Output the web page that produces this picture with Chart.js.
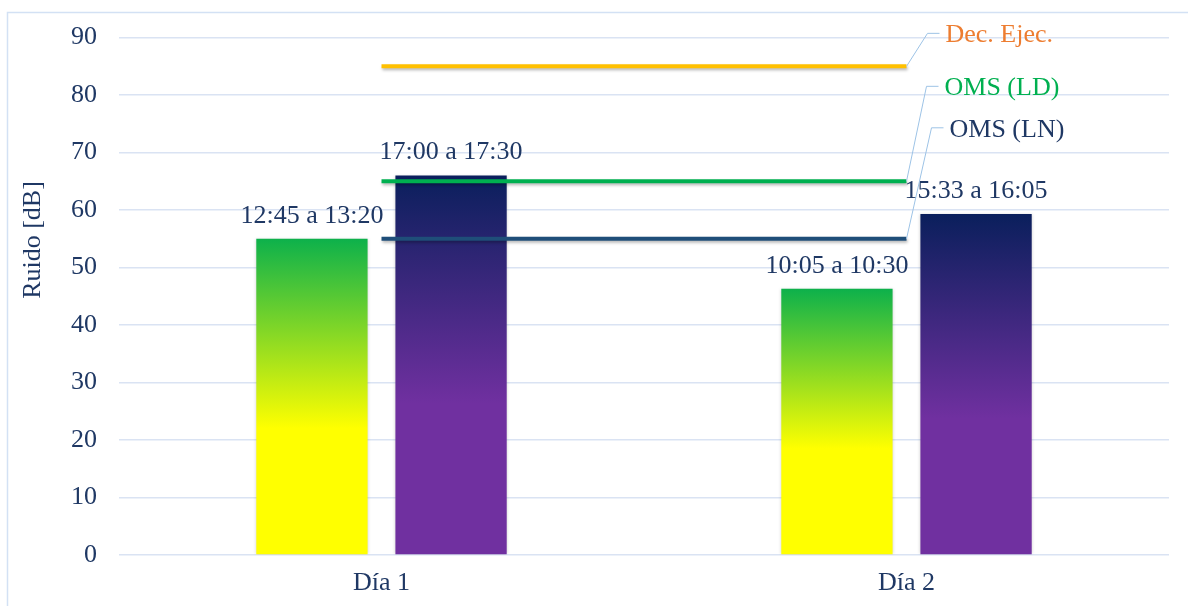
<!DOCTYPE html>
<html>
<head>
<meta charset="utf-8">
<script src="https://cdn.jsdelivr.net/npm/chart.js@4"></script>
<style>
  html, body { margin: 0; padding: 0; background: #ffffff; }
  #wrap { width: 1188px; height: 606px; position: relative; }
</style>
</head>
<body>
<div id="wrap"><canvas id="chart" width="1188" height="606"></canvas></div>
<script>
// Noise measurements per day
const categories = ['Día 1', 'Día 2'];
const medicionA = [55, 46.3];          // first measurement of each day
const medicionB = [66, 59.3];          // second measurement of each day
const horarioA = ['12:45 a 13:20', '10:05 a 10:30'];
const horarioB = ['17:00 a 17:30', '15:33 a 16:05'];

// Reference limits
const limiteDecEjec = [85, 85];
const limiteOmsLD = [65, 65];
const limiteOmsLN = [55, 55];
const limiteNombres = ['Dec. Ejec.', 'OMS (LD)', 'OMS (LN)'];

const yTickStep = 10;
const yMax = 90;

const SERIF = '"Liberation Serif", "Times New Roman", serif';
const NAVY = '#1F3864';
const FONT_PX = 26;

// Vertical gradient inside a bar: solid colour on the lower part, fading to the top colour
function barGradient(bottomColor, topColor) {
  return function (ctx) {
    const chart = ctx.chart;
    if (!chart.chartArea || ctx.type !== 'data') return bottomColor;
    const y = chart.scales.y;
    const y0 = y.getPixelForValue(0);
    const y1 = y.getPixelForValue(ctx.raw);
    if (!isFinite(y0) || !isFinite(y1) || y0 === y1) return bottomColor;
    const g = chart.ctx.createLinearGradient(0, y0, 0, y1);
    g.addColorStop(0, bottomColor);
    g.addColorStop(0.4, bottomColor);
    g.addColorStop(1, topColor);
    return g;
  };
}

// Outer frame around the chart
const framePlugin = {
  id: 'frame',
  beforeDraw(chart) {
    const c = chart.ctx;
    c.save();
    c.strokeStyle = '#D3E1F4';
    c.lineWidth = 1.5;
    c.strokeRect(7.5, 12.5, chart.width + 20, chart.height + 20);
    c.restore();
  }
};

// Soft shadow under bars and limit lines
const shadowPlugin = {
  id: 'markShadow',
  beforeDatasetDraw(chart, args) {
    const c = chart.ctx;
    c.save();
    if (args.meta.type === 'line') {
      c.shadowColor = 'rgba(0,0,0,0.28)';
      c.shadowBlur = 3;
      c.shadowOffsetX = 1;
      c.shadowOffsetY = 2;
    } else {
      c.shadowColor = 'rgba(0,0,0,0.18)';
      c.shadowBlur = 3;
    }
  },
  afterDatasetDraw(chart) {
    chart.ctx.restore();
  }
};

// Time range written above each bar
const barLabelPlugin = {
  id: 'barLabels',
  afterDatasetsDraw(chart) {
    const c = chart.ctx;
    c.save();
    c.font = FONT_PX + 'px ' + SERIF;
    c.fillStyle = NAVY;
    c.textAlign = 'center';
    c.textBaseline = 'middle';
    chart.data.datasets.forEach((ds, di) => {
      if (!ds.horario) return;
      const meta = chart.getDatasetMeta(di);
      meta.data.forEach((bar, i) => {
        c.fillText(ds.horario[i], bar.x, bar.y - 23);
      });
    });
    c.restore();
  }
};

// Leader lines from the end of each limit line to its name
const leaderPlugin = {
  id: 'leaders',
  afterDatasetsDraw(chart) {
    const c = chart.ctx;
    c.save();
    c.font = FONT_PX + 'px ' + SERIF;
    c.textAlign = 'left';
    c.textBaseline = 'middle';
    chart.data.datasets.forEach((ds, di) => {
      if (!ds.leader) return;
      const meta = chart.getDatasetMeta(di);
      const pt = meta.data[meta.data.length - 1];
      const L = ds.leader;
      const yl = pt.y + L.dy;
      c.strokeStyle = '#9DC3E6';
      c.lineWidth = 1;
      c.beginPath();
      c.moveTo(pt.x, pt.y);
      c.lineTo(pt.x + L.bend, yl);
      c.lineTo(pt.x + L.bend + 12, yl);
      c.stroke();
      c.fillStyle = ds.leaderColor;
      c.fillText(ds.label, pt.x + L.bend + 18, yl + 2);
    });
    c.restore();
  }
};

// Rotated axis title
const yTitlePlugin = {
  id: 'yTitle',
  afterDraw(chart) {
    const c = chart.ctx;
    c.save();
    c.translate(33, 240);
    c.rotate(-Math.PI / 2);
    c.font = FONT_PX + 'px ' + SERIF;
    c.fillStyle = NAVY;
    c.textAlign = 'center';
    c.textBaseline = 'middle';
    c.fillText('Ruido [dB]', 0, 0);
    c.restore();
  }
};

new Chart(document.getElementById('chart'), {
  data: {
    labels: categories,
    datasets: [
      {
        type: 'line', label: limiteNombres[0], data: limiteDecEjec, order: 0,
        borderColor: '#FFC000', borderWidth: 4, pointRadius: 0, pointHoverRadius: 0,
        leaderColor: '#ED7D31', leader: { dy: -33, bend: 21 }
      },
      {
        type: 'line', label: limiteNombres[1], data: limiteOmsLD, order: 0,
        borderColor: '#00B050', borderWidth: 4, pointRadius: 0, pointHoverRadius: 0,
        leaderColor: '#00B050', leader: { dy: -95, bend: 20 }
      },
      {
        type: 'line', label: limiteNombres[2], data: limiteOmsLN, order: 0,
        borderColor: '#1F4E79', borderWidth: 4, pointRadius: 0, pointHoverRadius: 0,
        leaderColor: NAVY, leader: { dy: -111, bend: 25 }
      },
      {
        type: 'bar', label: 'Medición 1', data: medicionA, order: 1,
        backgroundColor: barGradient('#FFFF00', '#0DB14B'),
        categoryPercentage: 0.53, barPercentage: 0.8,
        horario: horarioA
      },
      {
        type: 'bar', label: 'Medición 2', data: medicionB, order: 1,
        backgroundColor: barGradient('#7030A0', '#0A1F5C'),
        categoryPercentage: 0.53, barPercentage: 0.8,
        horario: horarioB
      }
    ]
  },
  options: {
    responsive: false,
    animation: false,
    events: [],
    layout: { padding: { left: 0, right: 19, top: 37, bottom: 0 } },
    plugins: {
      legend: { display: false },
      tooltip: { enabled: false },
      title: { display: false }
    },
    scales: {
      x: {
        grid: { display: false, drawTicks: false },
        border: { display: false },
        ticks: { color: NAVY, font: { family: SERIF, size: FONT_PX }, padding: 13 },
        afterFit(s) { s.height = 51; }
      },
      y: {
        min: 0, max: yMax,
        grid: { color: '#DAE3F3', lineWidth: 1.5, drawTicks: false },
        border: { display: false },
        ticks: { stepSize: yTickStep, color: NAVY, font: { family: SERIF, size: FONT_PX }, padding: 22 },
        afterFit(s) { s.width = 119; }
      }
    }
  },
  plugins: [framePlugin, shadowPlugin, barLabelPlugin, leaderPlugin, yTitlePlugin]
});
</script>
</body>
</html>
